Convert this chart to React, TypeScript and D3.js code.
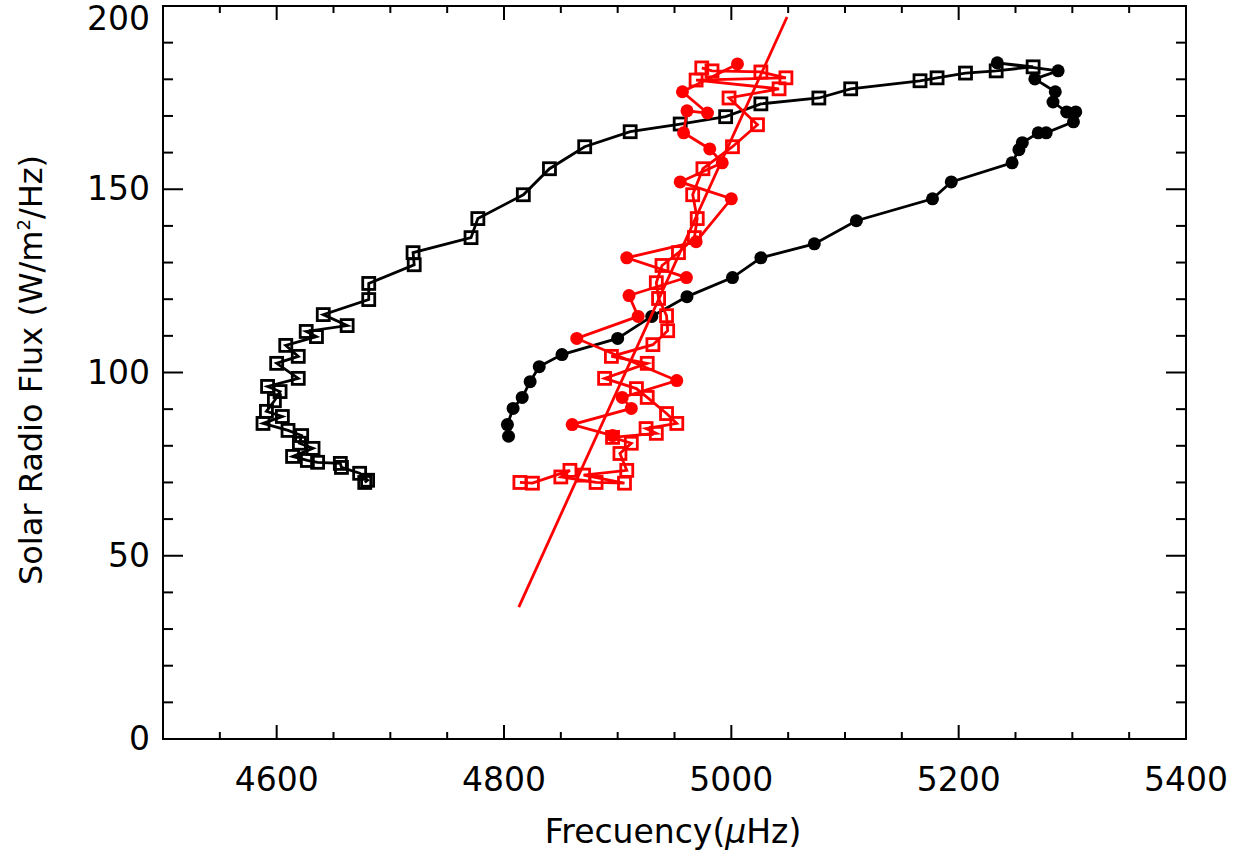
import React from "react";
import * as d3 from "d3";

const blackSquares: [number, number][] = [
  [4677.5,70.0],[4680,70.6],[4673,72.5],[4657,74.1],[4656,75.2],[4636,75.5],[4627,76.0],[4614,77.1],[4632,79.3],[4620,80.7],[4622,82.8],[4610,84.2],[4588,86.1],[4605,88.0],[4591,89.4],[4598,92.3],[4603,94.8],[4592,96.2],[4619,98.4],[4600,102.5],[4619,104.4],[4608,107.4],[4635,109.8],[4626,111.2],[4662,112.8],[4641,115.8],[4681,119.9],[4681,124.3],[4721,129.4],[4720,132.7],[4771,136.8],[4777,142.0],[4817,148.5],[4840,155.6],[4871,161.6],[4911,165.7],[4955,167.8],[4995,169.8],[5026,173.3],[5077,174.9],[5105,177.4],[5166,179.6],[5181,180.4],[5206,181.7],[5233,182.3],[5265.5,183.4]
];
const blackDots: [number, number][] = [
  [5234,184.5],[5287.5,182.3],[5267,180.1],[5285,176.6],[5283,173.8],[5295,171.1],[5303,171.1],[5301,168.4],[5277,165.4],[5270,165.4],[5256,162.7],[5253,160.8],[5247,157.2],[5193.5,152.0],[5177,147.4],[5110,141.4],[5073,135.1],[5026,131.3],[5001,125.9],[4961,120.7],[4930,115.3],[4900,109.3],[4851,104.9],[4831,101.6],[4823,97.5],[4816,93.2],[4808,90.2],[4803,85.8],[4804,82.6]
];
const redDots: [number, number][] = [
  [5005.4,184.2],[4957,176.6],[4979,170.8],[4961,171.4],[4958,165.4],[4981,161.0],[4992,157.2],[4955,152.0],[5000,147.4],[4969,135.7],[4908,131.3],[4960.5,125.9],[4910,121.0],[4918,115.3],[4864,109.3],[4952,97.8],[4904,93.2],[4912,90.2],[4860,85.8],[4895.5,82.8]
];
const redSquares: [number, number][] = [
  [4814,70.0],[4825,69.8],[4858,73.3],[4850,71.5],[4881,70.0],[4906,69.8],[4870,72.0],[4908,73.3],[4902,77.9],[4912,80.7],[4895.5,82.3],[4934,83.4],[4925,84.7],[4952,86.1],[4943,88.8],[4926,93.2],[4916.5,95.6],[4888.5,98.4],[4926,102.5],[4894.5,104.4],[4931,107.6],[4944,111.4],[4943,115.5],[4936,120.2],[4934,124.5],[4939,129.2],[4953.5,132.7],[4967.5,136.8],[4970,142.0],[4966,148.5],[4975,155.6],[5001,161.6],[5023,167.6],[4998,174.9],[5042,177.4],[4969,179.8],[5048,180.4],[5026,182.0],[4983,182.3],[4974,183.1]
];
const fitLine: [number, number][] = [[4813,36],[5049,197]];
const xTicks = [4600, 4800, 5000, 5200, 5400];
const yTicks = [0, 50, 100, 150, 200];

const L = 163, R = 1186, T = 6, B = 739;
const x = d3.scaleLinear().domain([4500, 5400]).range([L, R]);
const y = d3.scaleLinear().domain([0, 200]).range([B, T]);
const line = d3.line<[number, number]>().x(d => x(d[0])).y(d => y(d[1]));
const font = "'DejaVu Sans', sans-serif";

export default function App() {
  const xMinor = d3.range(4500, 5401, 50);
  const yMinor = d3.range(0, 201, 10);
  const sq = 12;
  const sw = 2.8;
  return (
    <svg width={1249} height={859} style={{ position: "absolute", left: 0, top: 0, background: "#fff" }}>
      <rect x={L} y={T} width={R - L} height={B - T} fill="none" stroke="#000" strokeWidth={2} />
      {xMinor.map(v => {
        const len = v % 200 === 0 ? 14 : 7;
        return (
          <g key={"x" + v}>
            <line x1={x(v)} x2={x(v)} y1={B} y2={B - len} stroke="#000" strokeWidth={2} />
            <line x1={x(v)} x2={x(v)} y1={T} y2={T + len} stroke="#000" strokeWidth={2} />
          </g>
        );
      })}
      {yMinor.map(v => {
        const len = v % 50 === 0 ? 20 : 10;
        return (
          <g key={"y" + v}>
            <line x1={L} x2={L + len} y1={y(v)} y2={y(v)} stroke="#000" strokeWidth={2} />
            <line x1={R} x2={R - len} y1={y(v)} y2={y(v)} stroke="#000" strokeWidth={2} />
          </g>
        );
      })}
      {xTicks.map(v => (
        <text key={"xl" + v} x={x(v)} y={791} textAnchor="middle" fontFamily={font} fontSize={33}>{v}</text>
      ))}
      {yTicks.map(v => (
        <text key={"yl" + v} x={150} y={Math.max(y(v) + 11, 30)} textAnchor="end" fontFamily={font} fontSize={33}>{v}</text>
      ))}
      <text x={673} y={843} textAnchor="middle" fontFamily={font} fontSize={33}>
        Frecuency(<tspan fontStyle="italic">μ</tspan>Hz)
      </text>
      <text transform={`translate(42,${370}) rotate(-90)`} textAnchor="middle" fontFamily={font} fontSize={32}>
        Solar Radio Flux (W/m<tspan fontSize={18} dy={-12}>2</tspan><tspan dy={12}>/Hz)</tspan>
      </text>

      <path d={line(blackSquares) || ""} fill="none" stroke="#000" strokeWidth={sw} />
      <path d={line([blackSquares[blackSquares.length - 1], ...blackDots]) || ""} fill="none" stroke="#000" strokeWidth={sw} />
      {blackSquares.map((d, i) => (
        <rect key={"bs" + i} x={x(d[0]) - sq / 2} y={y(d[1]) - sq / 2} width={sq} height={sq} fill="none" stroke="#000" strokeWidth={sw} />
      ))}
      {blackDots.map((d, i) => (
        <circle key={"bd" + i} cx={x(d[0])} cy={y(d[1])} r={6.5} fill="#000" />
      ))}

      <path d={line(redSquares) || ""} fill="none" stroke="#ff0000" strokeWidth={sw} />
      <path d={line(redDots) || ""} fill="none" stroke="#ff0000" strokeWidth={sw} />
      {redSquares.map((d, i) => (
        <rect key={"rs" + i} x={x(d[0]) - sq / 2} y={y(d[1]) - sq / 2} width={sq} height={sq} fill="none" stroke="#ff0000" strokeWidth={sw} />
      ))}
      {redDots.map((d, i) => (
        <circle key={"rd" + i} cx={x(d[0])} cy={y(d[1])} r={6.5} fill="#ff0000" />
      ))}
      <path d={line(fitLine) || ""} fill="none" stroke="#ff0000" strokeWidth={sw} />
    </svg>
  );
}
